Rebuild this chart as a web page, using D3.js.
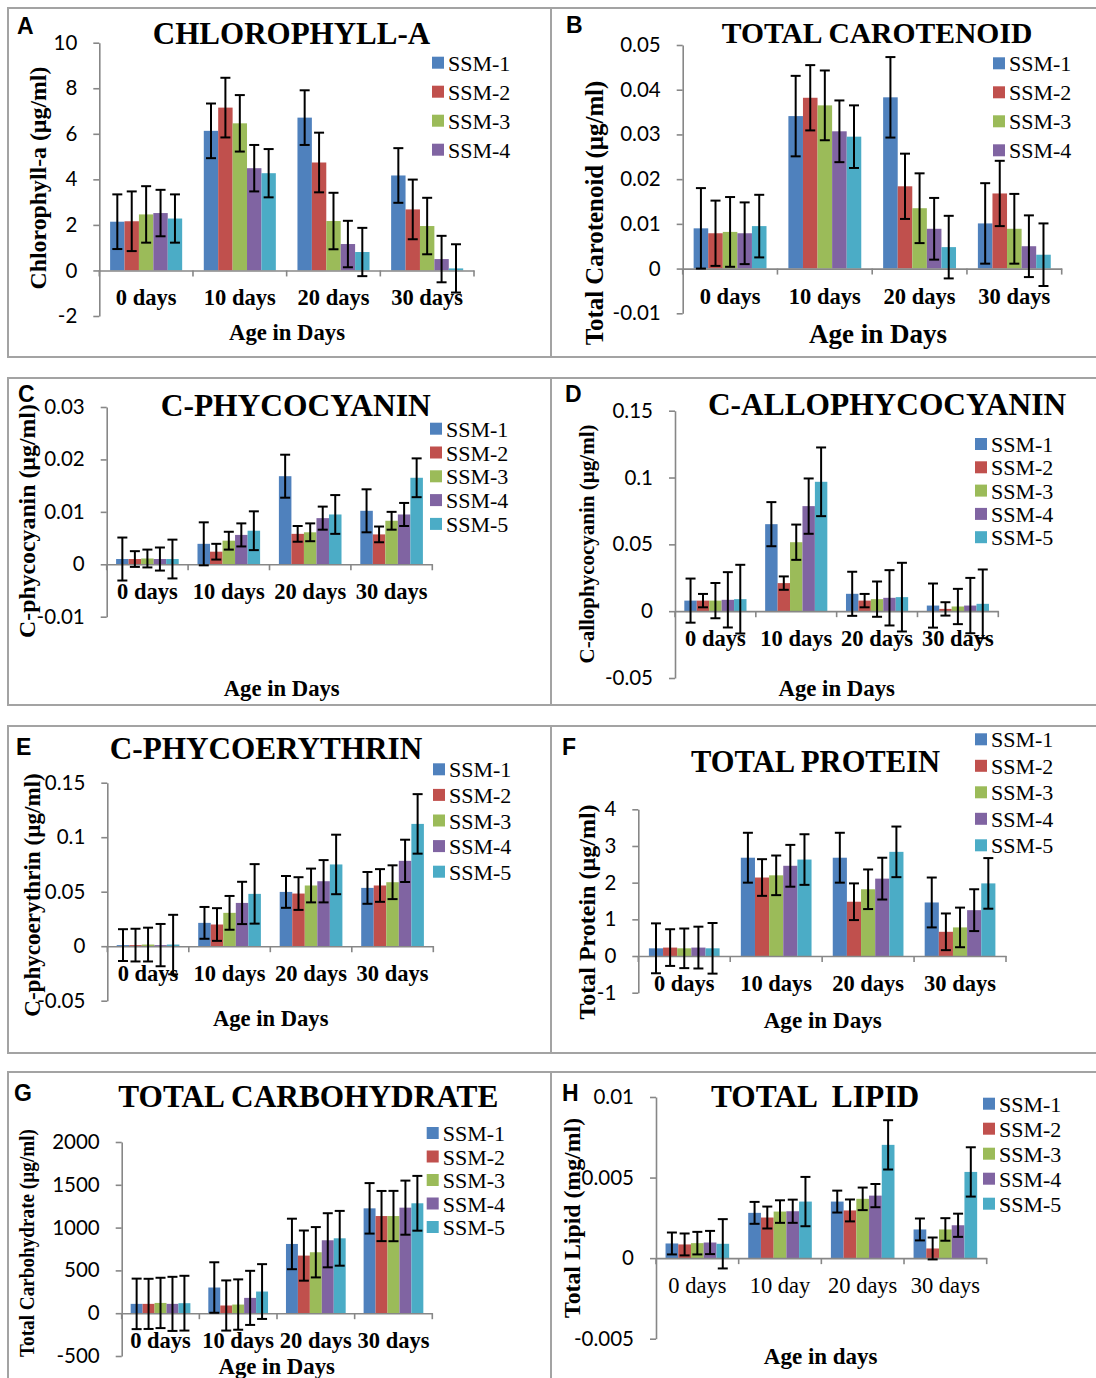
<!DOCTYPE html>
<html>
<head>
<meta charset="utf-8">
<script src="https://cdn.jsdelivr.net/npm/d3@7"></script>
<style>
  body { margin: 0; background: #fff; }
  svg { display: block; }
  text { fill: #000; }
</style>
</head>
<body>
<script>
// categories and series
const days = ["0 days", "10 days", "20 days", "30 days"];
const daysLipid = ["0 days", "10 day", "20 days", "30 days"];
const strains = ["SSM-1", "SSM-2", "SSM-3", "SSM-4", "SSM-5"];

// values: one row per age, one entry per strain; errors: one per strain
const chlorophyll = [[2.14, 2.16, 2.46, 2.52, 2.28], [6.13, 7.15, 6.46, 4.49, 4.27], [6.71, 4.74, 2.17, 1.16, 0.81], [4.17, 2.68, 1.95, 0.50, 0.09]];
const chlorophyllErr = [1.2, 1.31, 1.24, 1.02, 1.06];
const chlorophyllTicks = [-2, 0, 2, 4, 6, 8, 10];

const carotenoid = [[0.009, 0.0079, 0.0082, 0.0079, 0.0095], [0.0341, 0.0382, 0.0365, 0.0307, 0.0295], [0.0383, 0.0184, 0.0135, 0.0089, 0.0048], [0.0101, 0.0168, 0.0089, 0.005, 0.0031]];
const carotenoidErr = [0.009, 0.0073, 0.0078, 0.0069, 0.007];
const carotenoidTicks = [-0.01, 0, 0.01, 0.02, 0.03, 0.04, 0.05];

const phycocyanin = [[0.001, 0.001, 0.0011, 0.001, 0.001], [0.0039, 0.0024, 0.0045, 0.0056, 0.0064], [0.0168, 0.0058, 0.0061, 0.0088, 0.0095], [0.0102, 0.0057, 0.0083, 0.0095, 0.0165]];
const phycocyaninErr = [0.0041, 0.0015, 0.0017, 0.0022, 0.0037];
const phycocyaninTicks = [-0.01, 0, 0.01, 0.02, 0.03];

const allophycocyanin = [[0.0079, 0.0079, 0.0079, 0.0085, 0.009], [0.0651, 0.021, 0.0516, 0.0786, 0.0968], [0.013, 0.0079, 0.009, 0.01, 0.0105], [0.0042, 0.0017, 0.0035, 0.0042, 0.0055]];
const allophycocyaninErr = [0.0165, 0.005, 0.0132, 0.0207, 0.0257];
const allophycocyaninTicks = [-0.05, 0, 0.05, 0.1, 0.15];

const phycoerythrin = [[0.001, 0.001, 0.0015, 0.001, 0.0015], [0.0214, 0.0199, 0.0306, 0.0397, 0.048], [0.0498, 0.0483, 0.0557, 0.0596, 0.075], [0.0535, 0.0557, 0.0587, 0.0783, 0.1122]];
const phycoerythrinErr = [0.0146, 0.015, 0.0155, 0.0194, 0.0273];
const phycoerythrinTicks = [-0.05, 0, 0.05, 0.1, 0.15];

const protein = [[0.21, 0.23, 0.21, 0.23, 0.21], [2.68, 2.14, 2.2, 2.46, 2.63], [2.68, 1.48, 1.82, 2.11, 2.84], [1.46, 0.66, 0.78, 1.25, 1.98]];
const proteinErr = [0.68, 0.5, 0.54, 0.57, 0.69];
const proteinTicks = [-1, 0, 1, 2, 3, 4];

const carbohydrate = [[109, 109, 120, 109, 117], [300, 90, 101, 179, 253], [809, 673, 712, 852, 875], [1225, 1135, 1135, 1233, 1284]];
const carbohydrateErr = [295, 293, 294, 316, 320];
const carbohydrateTicks = [-500, 0, 500, 1000, 1500, 2000];

const lipid = [[0.00091, 0.00085, 0.00093, 0.00097, 0.00089], [0.00281, 0.00252, 0.00289, 0.00291, 0.00351], [0.00351, 0.00296, 0.00368, 0.00388, 0.00703], [0.00178, 0.0006, 0.00178, 0.00204, 0.00535]];
const lipidErr = [0.00068, 0.00068, 0.0007, 0.00072, 0.00153];
const lipidTicks = [-0.005, 0, 0.005, 0.01];

const colors = ["#4F81BD", "#C0504D", "#9BBB59", "#8064A2", "#4BACC6"];
const serif = "'Liberation Serif', 'Times New Roman', serif";
const axisColor = "#878787";

// layout of each panel (pixels)
const panels = [
  { label: "A", lbx: 17, lby: 34, title: "CHLOROPHYLL-A", tx: 291.5, ty: 44, tfs: 31,
    vals: chlorophyll, errs: chlorophyllErr, ticks: chlorophyllTicks, cats: days,
    x0: 99.3, x1: 474, yTop: 42.7, yBot: 316, legN: 4, lx: 432, ly: 62.7, ldy: 29,
    yt: "Chlorophyll-a (µg/ml)", ytx: 37.5, yty: 178, ytfs: 23.8, xt: "Age in Days", xtx: 287, xty: 340, xtfs: 22.7 },
  { label: "B", lbx: 566, lby: 33, title: "TOTAL CAROTENOID", tx: 877, ty: 43, tfs: 29.6,
    vals: carotenoid, errs: carotenoidErr, ticks: carotenoidTicks, cats: days,
    x0: 682.7, x1: 1061.7, yTop: 45, yBot: 313.3, legN: 4, lx: 993, ly: 63.3, ldy: 29,
    yt: "Total Carotenoid (µg/ml)", ytx: 594, yty: 213, ytfs: 24.9, xt: "Age in Days", xtx: 878, xty: 343, xtfs: 27 },
  { label: "C", lbx: 18, lby: 402, title: "C-PHYCOCYANIN", tx: 295.7, ty: 416.3, tfs: 31.5,
    vals: phycocyanin, errs: phycocyaninErr, ticks: phycocyaninTicks, cats: days,
    x0: 106.7, x1: 432.3, yTop: 407, yBot: 616.7, legN: 5, lx: 430, ly: 428.7, ldy: 23.8,
    yt: "C-phycocyanin (µg/ml)", ytx: 26.7, yty: 521, ytfs: 23.8, xt: "Age in Days", xtx: 281.7, xty: 696.3, xtfs: 22.7 },
  { label: "D", lbx: 565, lby: 402, title: "C-ALLOPHYCOCYANIN", tx: 887, ty: 415.3, tfs: 31.4,
    vals: allophycocyanin, errs: allophycocyaninErr, ticks: allophycocyaninTicks, cats: days,
    x0: 675, x1: 998.3, yTop: 410.7, yBot: 678, legN: 5, lx: 975, ly: 444, ldy: 23.3,
    yt: "C-allophycocyanin (µg/ml)", ytx: 586.7, yty: 544, ytfs: 21, xt: "Age in Days", xtx: 836.7, xty: 696.3, xtfs: 22.8 },
  { label: "E", lbx: 16, lby: 755, title: "C-PHYCOERYTHRIN", tx: 266, ty: 759.3, tfs: 31.2,
    vals: phycoerythrin, errs: phycoerythrinErr, ticks: phycoerythrinTicks, cats: days,
    x0: 107.3, x1: 433.3, yTop: 782.7, yBot: 1000.7, legN: 5, lx: 433, ly: 769.3, ldy: 25.6,
    yt: "C-phycoerythrin (µg/ml)", ytx: 31.7, yty: 895, ytfs: 23.1, xt: "Age in Days", xtx: 270.7, xty: 1026, xtfs: 22.6 },
  { label: "F", lbx: 562, lby: 755, title: "TOTAL PROTEIN", tx: 815.5, ty: 772, tfs: 30.5,
    vals: protein, errs: proteinErr, ticks: proteinTicks, cats: days,
    x0: 638.3, x1: 1006, yTop: 809.3, yBot: 992.7, legN: 5, lx: 975, ly: 739.3, ldy: 26.5,
    yt: "Total Protein (µg/ml)", ytx: 586.3, yty: 912, ytfs: 24, xt: "Age in Days", xtx: 822.7, xty: 1027.7, xtfs: 23.1 },
  { label: "G", lbx: 14, lby: 1101, title: "TOTAL CARBOHYDRATE", tx: 308.3, ty: 1107, tfs: 31.3,
    vals: carbohydrate, errs: carbohydrateErr, ticks: carbohydrateTicks, cats: days,
    x0: 121.7, x1: 432.3, yTop: 1142, yBot: 1356, legN: 5, lx: 426.7, ly: 1133, ldy: 23.5,
    yt: "Total Carbohydrate (µg/ml)", ytx: 26.7, yty: 1243, ytfs: 22, ytlen: 228, xt: "Age in Days", xtx: 276.7, xty: 1373.7, xtfs: 22.8 },
  { label: "H", lbx: 562, lby: 1101, title: "TOTAL  LIPID", tx: 815, ty: 1107, tfs: 31.4,
    vals: lipid, errs: lipidErr, ticks: lipidTicks, cats: daysLipid, tickWeight: "normal",
    x0: 656, x1: 986.7, yTop: 1097, yBot: 1338.7, legN: 5, lx: 983, ly: 1103.7, ldy: 25,
    yt: "Total Lipid (mg/ml)", ytx: 572, yty: 1218, ytfs: 23.8, xt: "Age in days", xtx: 820.7, xty: 1363.7, xtfs: 23 }
];

const svg = d3.select("body").append("svg")
    .attr("width", 1096)
    .attr("height", 1378);

// panel frames
const frames = [[8, 357], [378, 705], [726, 1053], [1072, 1400]];
svg.selectAll("rect.frame").data(frames).join("rect")
    .attr("class", "frame")
    .attr("x", 8).attr("y", d => d[0])
    .attr("width", 1100).attr("height", d => d[1] - d[0])
    .attr("fill", "none").attr("stroke", "#a3a3a3").attr("stroke-width", 2);
svg.selectAll("line.divider").data(frames).join("line")
    .attr("class", "divider")
    .attr("x1", 551).attr("x2", 551)
    .attr("y1", d => d[0]).attr("y2", d => d[1])
    .attr("stroke", "#a3a3a3").attr("stroke-width", 2);

const drawPanel = p => {
  const g = svg.append("g");
  const y = d3.scaleLinear()
    .domain([p.ticks[0], p.ticks[p.ticks.length - 1]])
    .range([p.yBot, p.yTop]);
  const x = d3.scaleBand().domain(p.cats).range([p.x0, p.x1]);
  const xs = d3.scaleBand().domain(strains).range([0, x.bandwidth()]).paddingOuter(0.75);

  const rows = p.vals.flatMap((arr, i) => arr.map((v, j) => ({ cat: p.cats[i], s: strains[j], j, v, e: p.errs[j] })));

  // bars
  g.selectAll("rect.bar").data(rows).join("rect")
    .attr("class", "bar")
    .attr("x", d => x(d.cat) + xs(d.s))
    .attr("width", xs.bandwidth())
    .attr("y", d => y(Math.max(0, d.v)))
    .attr("height", d => Math.abs(y(d.v) - y(0)))
    .attr("fill", d => colors[d.j]);

  // y axis
  const ya = g.append("g")
    .attr("transform", `translate(${p.x0},0)`)
    .call(d3.axisLeft(y).tickValues(p.ticks).tickFormat(d => String(d))
      .tickSize(6).tickSizeOuter(0).tickPadding(16));
  ya.selectAll("path, line").attr("stroke", axisColor).attr("stroke-width", 1.6);
  ya.selectAll("text")
    .attr("font-family", "Lato, 'Open Sans', sans-serif")
    .attr("font-size", 20.5);

  // x axis on the zero line
  const xa = g.append("g")
    .attr("transform", `translate(0,${y(0)})`)
    .call(d3.axisBottom(x).tickSize(0).tickSizeOuter(0));
  xa.select(".domain").attr("stroke", axisColor).attr("stroke-width", 1.6);
  xa.selectAll("text")
    .attr("y", 35).attr("dy", null)
    .attr("font-family", serif)
    .attr("font-weight", p.tickWeight || "bold")
    .attr("font-size", 22.5);

  // category boundary ticks
  g.selectAll("line.ctick").data(p.cats.map(c => x(c)).concat([p.x1])).join("line")
    .attr("class", "ctick")
    .attr("x1", d => d).attr("x2", d => d)
    .attr("y1", y(0)).attr("y2", y(0) + 6)
    .attr("stroke", axisColor).attr("stroke-width", 1.6);

  // error bars
  const eb = g.selectAll("g.err").data(rows).join("g")
    .attr("class", "err")
    .attr("transform", d => `translate(${x(d.cat) + xs(d.s) + xs.bandwidth() / 2},0)`);
  eb.append("line")
    .attr("y1", d => y(d.v + d.e)).attr("y2", d => y(d.v - d.e));
  eb.append("line")
    .attr("x1", -5).attr("x2", 5)
    .attr("y1", d => y(d.v + d.e)).attr("y2", d => y(d.v + d.e));
  eb.append("line")
    .attr("x1", -5).attr("x2", 5)
    .attr("y1", d => y(d.v - d.e)).attr("y2", d => y(d.v - d.e));
  eb.selectAll("line").attr("stroke", "#000").attr("stroke-width", 2);

  // title
  g.append("text")
    .attr("x", p.tx).attr("y", p.ty)
    .attr("text-anchor", "middle")
    .attr("font-family", serif).attr("font-weight", "bold")
    .attr("font-size", p.tfs)
    .style("white-space", "pre")
    .text(p.title);

  // panel letter
  g.append("text")
    .attr("x", p.lbx).attr("y", p.lby)
    .attr("font-family", "'Liberation Sans', Arial, sans-serif").attr("font-weight", "bold")
    .attr("font-size", 23)
    .text(p.label);

  // axis titles
  const yt = g.append("text")
    .attr("transform", `translate(${p.ytx},${p.yty}) rotate(-90)`)
    .attr("text-anchor", "middle").attr("dy", "0.35em")
    .attr("font-family", serif).attr("font-weight", "bold")
    .attr("font-size", p.ytfs)
    .text(p.yt);
  if (p.ytlen) yt.attr("textLength", p.ytlen).attr("lengthAdjust", "spacingAndGlyphs");

  g.append("text")
    .attr("x", p.xtx).attr("y", p.xty)
    .attr("text-anchor", "middle")
    .attr("font-family", serif).attr("font-weight", "bold")
    .attr("font-size", p.xtfs)
    .text(p.xt);

  // legend
  const leg = g.selectAll("g.leg").data(strains.slice(0, p.legN)).join("g")
    .attr("class", "leg")
    .attr("transform", (d, i) => `translate(${p.lx},${p.ly + i * p.ldy})`);
  leg.append("rect")
    .attr("x", 0).attr("y", -6).attr("width", 12).attr("height", 12)
    .attr("fill", (d, i) => colors[i]);
  leg.append("text")
    .attr("x", 16).attr("y", 8)
    .attr("font-family", serif).attr("font-size", 22)
    .text(d => d);
};

panels.forEach(drawPanel);
</script>
</body>
</html>
